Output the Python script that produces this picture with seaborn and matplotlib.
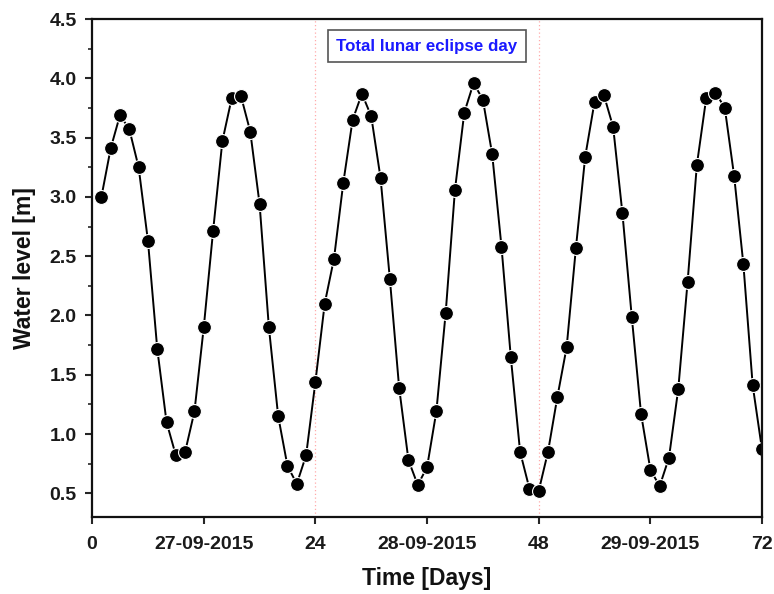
import matplotlib
matplotlib.use("Agg")
import matplotlib.pyplot as plt
from matplotlib.ticker import MultipleLocator, FormatStrFormatter
import seaborn as sns
import pandas as pd

# Hourly water level readings, 26-29 September 2015
hours = list(range(1, 73))
water_level = [
    3.00, 3.41, 3.69, 3.57, 3.25, 2.63, 1.72, 1.10, 0.82, 0.85, 1.19, 1.90,
    2.71, 3.47, 3.83, 3.85, 3.55, 2.94, 1.90, 1.15, 0.73, 0.58, 0.82, 1.44,
    2.10, 2.48, 3.12, 3.65, 3.87, 3.68, 3.16, 2.31, 1.39, 0.78, 0.57, 0.72,
    1.19, 2.02, 3.06, 3.71, 3.96, 3.82, 3.36, 2.58, 1.65, 0.85, 0.54, 0.52,
    0.85, 1.31, 1.73, 2.57, 3.34, 3.80, 3.86, 3.59, 2.86, 1.99, 1.17, 0.70,
    0.56, 0.80, 1.38, 2.28, 3.27, 3.83, 3.88, 3.75, 3.18, 2.43, 1.41, 0.87,
]
xtick_pos = [0, 12, 24, 36, 48, 60, 72]
xtick_labels = ["0", "27-09-2015", "24", "28-09-2015", "48", "29-09-2015", "72"]
day_bounds = [24, 48]
note_text = "Total lunar eclipse day"

df = pd.DataFrame({"Time": hours, "Level": water_level})

sns.set_style("ticks")
plt.rcParams["font.family"] = ["Liberation Sans", "DejaVu Sans"]

fig = plt.figure(figsize=(7.74, 5.94), dpi=100)
ax = fig.add_axes([0.119, 0.1296, 0.8655, 0.8384])

for b in day_bounds:
    ax.axvline(b, color="#ffaaaa", lw=0.9, ls=(0, (1, 2)), zorder=0)

sns.lineplot(data=df, x="Time", y="Level", ax=ax, color="black", lw=1.4,
             marker="o", markersize=10, markerfacecolor="black",
             markeredgecolor="white", markeredgewidth=0.8)

ax.set_xlim(0, 72)
ax.set_ylim(0.3, 4.5)
ax.set_xticks(xtick_pos)
ax.set_xticklabels(xtick_labels)
ax.yaxis.set_major_locator(MultipleLocator(0.5))
ax.yaxis.set_minor_locator(MultipleLocator(0.25))
ax.yaxis.set_major_formatter(FormatStrFormatter("%.1f"))

ax.tick_params(axis="both", which="major", direction="out", length=5, width=1.5,
               labelsize=14, labelcolor="#1a1a1a")
ax.tick_params(axis="x", which="major", pad=9)
ax.tick_params(axis="y", which="major", pad=6)
ax.tick_params(axis="y", which="minor", direction="out", length=3, width=1.2)
for lab in ax.get_xticklabels() + ax.get_yticklabels():
    lab.set_fontweight("bold")

for s in ax.spines.values():
    s.set_linewidth(1.6)
    s.set_color("#111111")

ax.set_xlabel("Time [Days]", fontsize=16.5, fontweight="bold", labelpad=10,
              color="#111111")
ax.set_ylabel("Water level [m]", fontsize=16.5, fontweight="bold", labelpad=10,
              color="#111111")

ax.text(36, 4.27, note_text, color="#1a1aff", fontsize=12.2, fontweight="bold",
        ha="center", va="center",
        bbox=dict(boxstyle="square,pad=0.5", fc="white", ec="#555555", lw=1.2))

fig.savefig("out.png", dpi=100)
